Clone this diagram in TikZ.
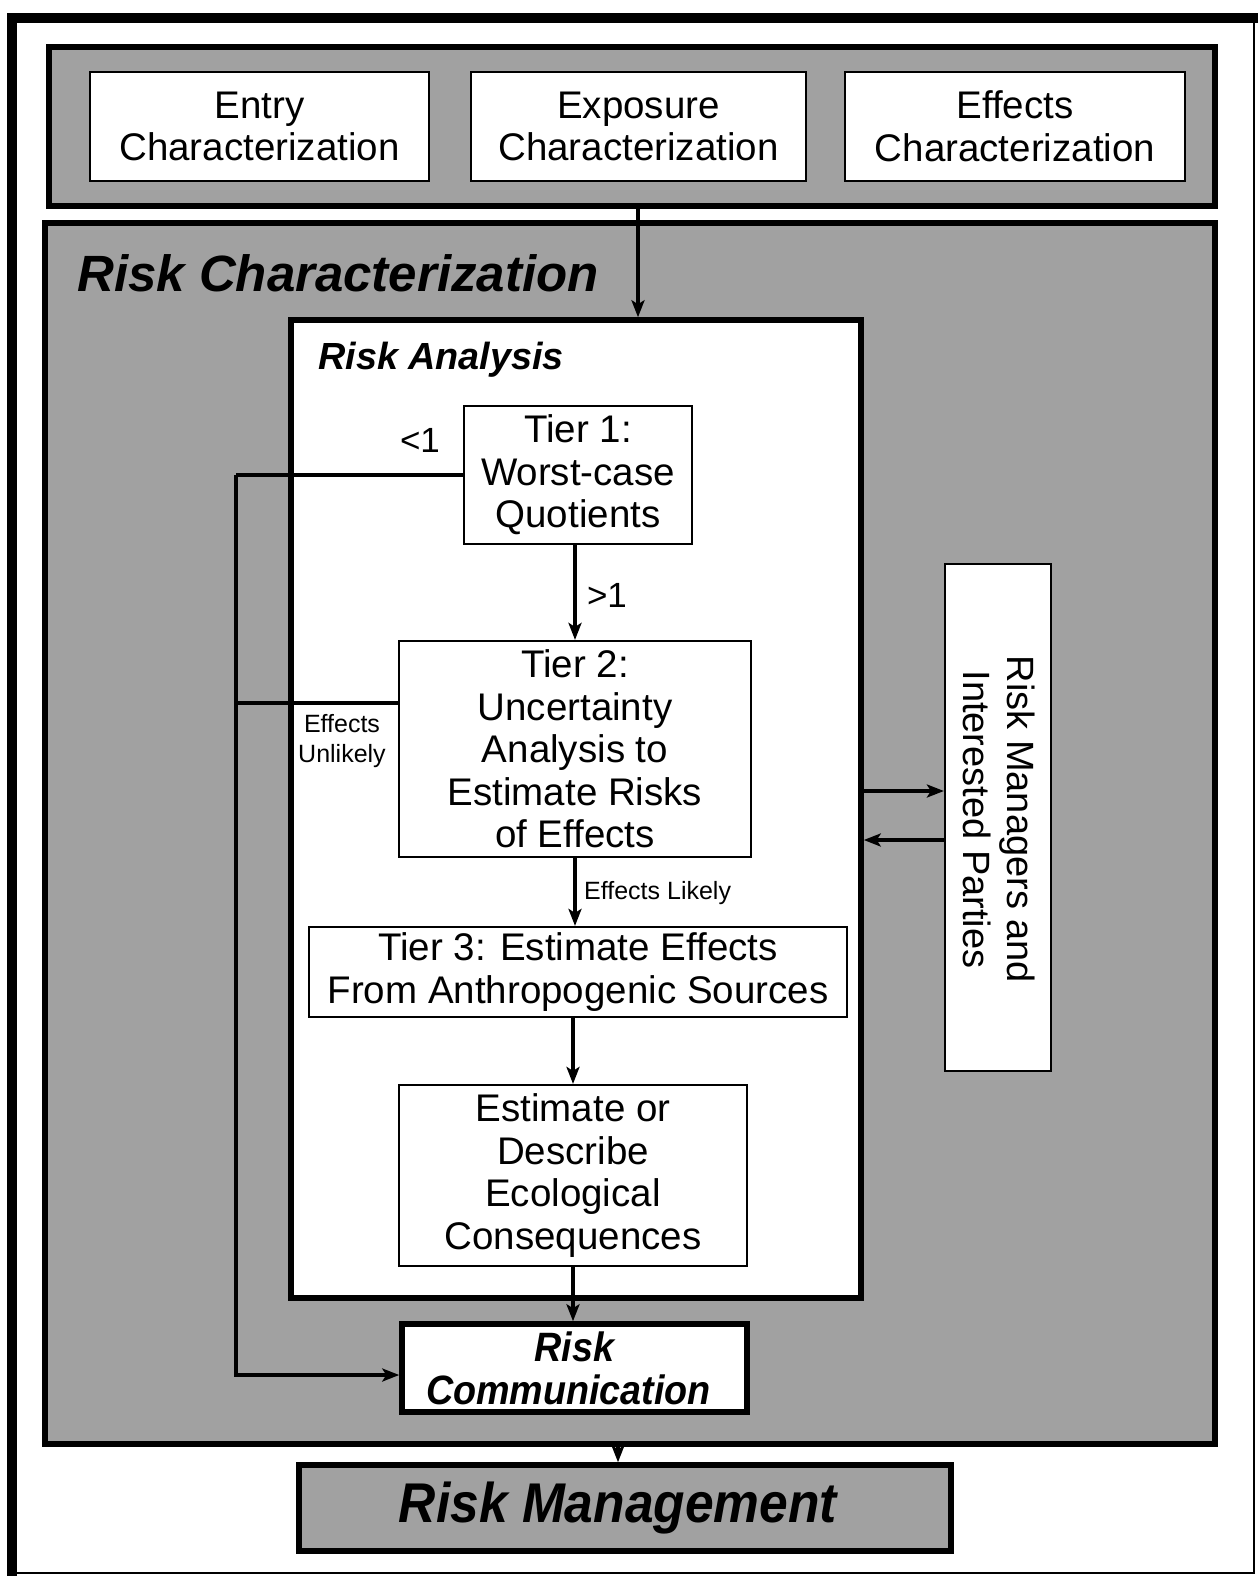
\documentclass[tikz,border=0pt]{standalone}
\usepackage{fontspec}
\setmainfont{Liberation Sans}
\newfontfamily\condfont{Liberation Sans}[FakeStretch=0.92]
\usetikzlibrary{arrows.meta,fit,calc}
\definecolor{bandgray}{gray}{0.63}
\tikzset{
  band/.style={draw, line width=6pt, fill=bandgray, inner sep=0pt},
  card/.style={draw, line width=2.2pt, fill=white, inner sep=0pt, align=center,
               font=\fontsize{38.5}{42.5}\selectfont},
  heavycard/.style={card, line width=5.5pt},
  flow/.style={line width=3.8pt, -{Stealth[length=17pt,width=13pt,inset=4pt]}},
  wire/.style={line width=3.8pt},
  smalllabel/.style={font=\fontsize{25}{30}\selectfont, align=center, inner sep=0pt},
  midlabel/.style={font=\fontsize{35}{40}\selectfont, inner sep=0pt},
}
\begin{document}
\begin{tikzpicture}[x=1pt, y=-1pt]
  \useasboundingbox (0,0) rectangle (1258,1576);

  % page frame: heavy on the left and top, thin on the right and bottom
  \draw[line width=10pt] (12,1576) -- (12,18) -- (1258,18);
  \draw[line width=2.5pt] (1254,18) -- (1254,1573) -- (12,1573);

  % characterization inputs
  \node[band, fit={(49,47) (1215,206)}] (inputs) {};
  \node[card, minimum width=339pt, minimum height=109pt] (entry) at (259.5,126.5)
       {Entry\\Characterization};
  \node[card, minimum width=335pt, minimum height=109pt] (expo) at (638.5,126.5)
       {Exposure\\Characterization};
  \node[card, minimum width=340pt, minimum height=109pt] (effects) at (1015,126.5)
       {Effects\\Characterization};

  % risk characterization band
  \node[band, fit={(45,223) (1215,1444)}] (riskchar) {};
  \node[anchor=base west, inner sep=0pt,
        font=\fontsize{51}{56}\selectfont\bfseries\itshape] (rctitle) at (77,291)
        {Risk Characterization};

  % risk analysis panel
  \node[draw, line width=5.5pt, fill=white, inner sep=0pt,
        fit={(291,320) (861,1298)}] (analysis) {};
  \node[anchor=base west, inner sep=0pt,
        font=\fontsize{37.8}{42}\selectfont\bfseries\itshape] (ratitle) at (318,369)
        {Risk Analysis};

  % tiers
  \node[card, minimum width=228pt, minimum height=138pt] (t1) at (578,475)
       {Tier 1:\\Worst-case\\Quotients};
  \node[card, minimum width=352pt, minimum height=216pt] (t2) at (575,749)
       {Tier 2:\\Uncertainty\\Analysis to\\Estimate Risks\\of Effects};
  \node[card, minimum width=538pt, minimum height=90pt] (t3) at (578,972)
       {Tier 3: Estimate Effects\\From Anthropogenic Sources};
  \node[card, minimum width=348pt, minimum height=181pt] (est) at (573,1175.5)
       {Estimate or\\Describe\\Ecological\\Consequences};

  % risk communication
  \node[heavycard, minimum width=345pt, minimum height=88pt,
        font=\fontsize{41}{43}\condfont\bfseries\itshape] (comm) at (574.5,1368)
       {Risk\\Communication\hspace*{12pt}};

  % risk managers and interested parties
  \node[card, minimum width=106pt, minimum height=507pt] (rm) at (998,817.5) {};
  \node[rotate=-90, align=center, inner sep=0pt,
        font=\fontsize{38}{44}\selectfont] (rmtext) at ($(rm.center)+(1,2)$)
       {Risk Managers and\\Interested Parties};

  % risk management
  \node[band, line width=5.5pt, minimum width=652pt, minimum height=86pt,
        font=\fontsize{56}{60}\condfont\bfseries\itshape] (mgmt) at (625,1508)
       {\hspace*{-14pt}Risk Management};

  % helper points for the routed connectors
  \coordinate (drop) at (638,0);
  \coordinate (fb) at (236,0);
  \coordinate (fbend) at (236,1375);
  \coordinate (rmout) at (0,791);
  \coordinate (rmin) at (0,840);
  \coordinate (mgmtx) at (618,0);
  \path (t2.west) ++(0,-46) coordinate (t2out);

  % connectors
  \draw[flow] (inputs.south -| drop) -- (analysis.north -| drop);
  \draw[flow] (t2.north |- t1.south) -- (t2.north);
  \draw[flow] (t2.south) -- (t2.south |- t3.north);
  \draw[flow] (est.north |- t3.south) -- (est.north);
  \draw[flow] (est.south) -- (est.south |- comm.north);

  \draw[wire] (t1.west) -- (t1.west -| fb);
  \draw[wire] (t2out) -- (t2out -| fb);
  \draw[flow] (t1.west -| fb) -- (fbend) -- (fbend -| comm.west);

  \draw[flow] (analysis.east |- rmout) -- (rm.west |- rmout);
  \draw[flow] (rm.west |- rmin) -- (analysis.east |- rmin);

  \draw[flow] (riskchar.south -| mgmtx) -- (mgmt.north -| mgmtx);

  % branch labels
  \node[midlabel] (lt) at (420,440) {<1};
  \node[midlabel] (gt) at (607,595) {>1};
  \node[smalllabel, anchor=west] (likely) at (584,893) {Effects Likely};
  \node[smalllabel] (unlikely) at (342,741) {Effects\\Unlikely};
\end{tikzpicture}
\end{document}
